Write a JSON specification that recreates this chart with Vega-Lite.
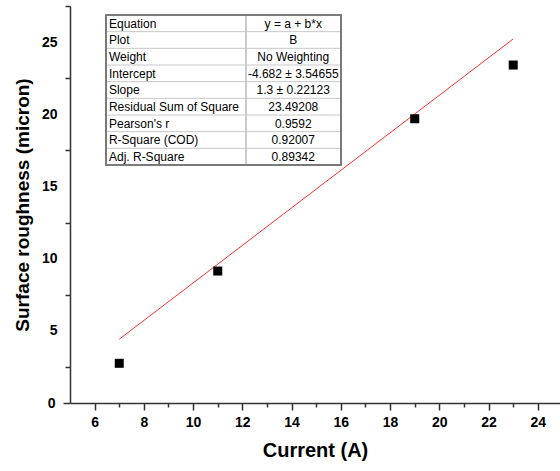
{
  "$schema": "https://vega.github.io/schema/vega-lite/v6.json",
  "width": 490,
  "height": 397,
  "autosize": {"type": "none"},
  "padding": {"left": 70, "top": 6, "right": 0, "bottom": 68},
  "background": "white",
  "config": {"view": {"stroke": null}, "font": "Liberation Sans"},
  "datasets": {
    "points": [
      {"current": 7, "roughness": 2.75},
      {"current": 11, "roughness": 9.14},
      {"current": 19, "roughness": 19.69},
      {"current": 23, "roughness": 23.41}
    ],
    "fit": [
      {"current": 7, "roughness": 4.418},
      {"current": 23, "roughness": 25.218}
    ],
    "table": [
      {"row": 1, "label": "Equation", "value": "y = a + b*x"},
      {"row": 2, "label": "Plot", "value": "B"},
      {"row": 3, "label": "Weight", "value": "No Weighting"},
      {"row": 4, "label": "Intercept", "value": "-4.682 ± 3.54655"},
      {"row": 5, "label": "Slope", "value": "1.3 ± 0.22123"},
      {"row": 6, "label": "Residual Sum of Square", "value": "23.49208"},
      {"row": 7, "label": "Pearson's r", "value": "0.9592"},
      {"row": 8, "label": "R-Square (COD)", "value": "0.92007"},
      {"row": 9, "label": "Adj. R-Square", "value": "0.89342"}
    ]
  },
  "layer": [
    {
      "layer": [
        {
          "data": {"name": "fit"},
          "mark": {"type": "line", "color": "#ff3030", "strokeWidth": 1},
          "encoding": {
            "x": {
              "field": "current", "type": "quantitative",
              "scale": {"domain": [5, 24.9], "nice": false, "zero": false},
              "axis": {
                "values": [6, 7, 8, 9, 10, 11, 12, 13, 14, 15, 16, 17, 18, 19, 20, 21, 22, 23, 24],
                "tickCount": 40,
                "format": "d",
                "labelExpr": "datum.value % 2 == 0 ? datum.label : ''",
                "tickSize": {"condition": {"test": "datum.value % 2 == 0", "value": 7}, "value": 4},
                "labelPadding": 5,
                "labelFontSize": 14, "labelFontWeight": "bold", "labelColor": "black",
                "labelFont": "Liberation Sans",
                "domainColor": "#333333", "domainWidth": 1.5,
                "tickColor": "#333333", "tickWidth": 1.5,
                "grid": false,
                "title": "Current (A)", "titleFontSize": 20, "titleFontWeight": "bold",
                "titleColor": "black", "titleFont": "Liberation Sans", "titlePadding": 11
              }
            },
            "y": {
              "field": "roughness", "type": "quantitative",
              "scale": {"domain": [0, 27.5], "nice": false, "zero": false},
              "axis": {
                "values": [0, 2.5, 5, 7.5, 10, 12.5, 15, 17.5, 20, 22.5, 25, 27.5],
                "tickCount": 40,
                "format": "d",
                "labelExpr": "datum.value % 5 == 0 ? datum.label : ''",
                "tickSize": {"condition": {"test": "datum.value == 0", "value": 7}, "value": 5},
                "tickColor": {"condition": {"test": "datum.value % 5 == 0 && datum.value > 0", "value": "transparent"}, "value": "#333333"},
                "labelPadding": 8,
                "labelFontSize": 14, "labelFontWeight": "bold", "labelColor": "black",
                "labelFont": "Liberation Sans",
                "domainColor": "#333333", "domainWidth": 1.5,
                "tickWidth": 1.5,
                "grid": false,
                "title": "Surface roughness (micron)", "titleFontSize": 19, "titleFontWeight": "bold",
                "titleColor": "black", "titleFont": "Liberation Sans", "titlePadding": 9
              }
            }
          }
        },
        {
          "data": {"name": "points"},
          "mark": {"type": "point", "shape": "square", "filled": true, "color": "black", "size": 81, "opacity": 1},
          "encoding": {
            "x": {"field": "current", "type": "quantitative"},
            "y": {"field": "roughness", "type": "quantitative"}
          }
        }
      ]
    },
    {
      "data": {"name": "table"},
      "layer": [
        {
          "mark": {"type": "rect", "fill": "white", "stroke": null},
          "encoding": {
            "x": {"datum": 6.46, "type": "quantitative"},
            "x2": {"datum": 15.995},
            "y": {"datum": 0, "type": "quantitative", "scale": {"domain": [-0.54, 23.28], "reverse": true, "nice": false, "zero": false}, "axis": null},
            "y2": {"datum": 9}
          }
        },
        {
          "mark": {"type": "rule", "color": "#c8c8c8", "strokeWidth": 1},
          "encoding": {
            "x": {"datum": 6.46, "type": "quantitative"},
            "x2": {"datum": 15.995},
            "y": {"field": "row", "type": "quantitative", "axis": null}
          }
        },
        {
          "mark": {"type": "rule", "color": "#c8c8c8", "strokeWidth": 1},
          "encoding": {
            "x": {"datum": 12.137, "type": "quantitative"},
            "y": {"datum": 0, "type": "quantitative", "axis": null},
            "y2": {"datum": 9}
          }
        },
        {
          "mark": {"type": "rect", "fillOpacity": 0, "stroke": "#7a7a7a", "strokeWidth": 1.2},
          "encoding": {
            "x": {"datum": 6.46, "type": "quantitative"},
            "x2": {"datum": 15.995},
            "y": {"datum": 0, "type": "quantitative", "axis": null},
            "y2": {"datum": 9}
          }
        },
        {
          "mark": {"type": "text", "align": "left", "baseline": "alphabetic", "dx": 3, "dy": -4, "fontSize": 12, "color": "black", "font": "Liberation Sans"},
          "encoding": {
            "x": {"datum": 6.46, "type": "quantitative"},
            "y": {"field": "row", "type": "quantitative", "axis": null},
            "text": {"field": "label"}
          }
        },
        {
          "mark": {"type": "text", "align": "center", "baseline": "alphabetic", "dy": -4, "fontSize": 12, "color": "black", "font": "Liberation Sans"},
          "encoding": {
            "x": {"datum": 14.066, "type": "quantitative"},
            "y": {"field": "row", "type": "quantitative", "axis": null},
            "text": {"field": "value"}
          }
        }
      ]
    }
  ],
  "resolve": {"scale": {"y": "independent"}}
}
